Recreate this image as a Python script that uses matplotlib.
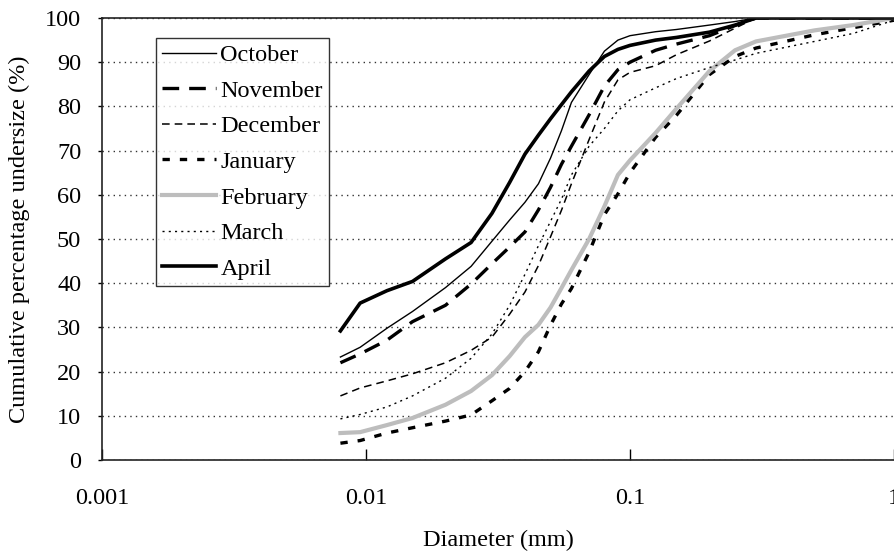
import numpy as np
import matplotlib
matplotlib.use("Agg")
import matplotlib.pyplot as plt

plt.rcParams['font.family'] = ['Liberation Serif', 'DejaVu Serif']

# particle diameters (mm) at which the curves were read
diameter = [0.008, 0.0095, 0.012, 0.015, 0.02, 0.025, 0.03, 0.035, 0.04, 0.045,
            0.05, 0.055, 0.06, 0.07, 0.08, 0.09, 0.1, 0.125, 0.15, 0.2,
            0.25, 0.3, 0.5, 0.7, 1.0]

october = [23.3, 25.5, 29.8, 33.6, 39.0, 43.8, 49.5, 54.3, 58.3, 62.5,
           68.3, 74.5, 80.9, 87.2, 92.5, 95.0, 96.0, 96.9, 97.4, 98.4,
           99.2, 100, 100, 100, 100]
november = [22.0, 24.0, 27.1, 31.3, 35.0, 39.8, 44.4, 48.2, 51.6, 56.6,
            61.7, 66.9, 71.0, 78.1, 84.6, 88.3, 90.0, 92.7, 94.1, 96.0,
            98.3, 100, 100, 100, 100]
december = [14.5, 16.3, 17.9, 19.5, 22.0, 24.8, 27.8, 33.0, 38.0, 44.0,
            50.5, 56.5, 62.5, 72.5, 81.0, 86.0, 87.7, 89.2, 91.7, 94.8,
            97.7, 100, 100, 100, 100]
january = [3.8, 4.4, 6.1, 7.3, 8.8, 10.2, 13.4, 16.2, 20.0, 24.5,
           30.5, 35.3, 38.8, 47.0, 55.5, 60.2, 65.0, 73.0, 78.0, 87.2,
           91.3, 93.2, 96.2, 97.8, 99.5]
february = [6.1, 6.3, 7.9, 9.5, 12.5, 15.6, 19.2, 23.5, 27.8, 30.6,
            34.5, 38.9, 43.0, 50.0, 57.4, 64.5, 67.8, 74.0, 79.5, 88.0,
            92.7, 94.7, 97.2, 98.4, 100]
march = [9.3, 10.3, 12.0, 14.5, 18.5, 23.0, 28.5, 35.0, 42.0, 48.5,
         54.0, 59.0, 64.5, 71.0, 75.0, 79.0, 81.5, 84.2, 86.3, 88.8,
         90.5, 92.0, 94.7, 96.5, 99.5]
april = [29.2, 35.5, 38.3, 40.4, 45.5, 49.2, 55.8, 62.8, 69.2, 73.5,
         77.2, 80.4, 83.3, 88.0, 91.3, 92.9, 93.8, 95.0, 95.6, 96.8,
         98.4, 100, 100, 100, 100]

fs = 17.5

fig = plt.figure(figsize=(8.94, 5.52), dpi=100)
ax = fig.add_axes([102/894, 92/552, 1 - 102/894, 442/552])

ax.plot(diameter, october, color='black', lw=1.0, label='October')
ax.plot(diameter, november, color='black', lw=2.4, ls=(0, (5, 3)), label='November')
ax.plot(diameter, december, color='black', lw=1.1, ls=(0, (5, 3.3)), label='December')
ax.plot(diameter, january, color='black', lw=2.4, ls=(0, (2.2, 3)), label='January')
ax.plot(diameter, february, color='#bdbdbd', lw=3.0, label='February')
ax.plot(diameter, march, color='black', lw=1.0, ls=(0, (1.5, 3)), label='March')
ax.plot(diameter, april, color='black', lw=2.6, label='April')

ax.set_xscale('log')
ax.set_xlim(0.001, 1)
ax.set_ylim(0, 100)
ax.set_xticks([0.001, 0.01, 0.1, 1])
ax.set_xticklabels(['0.001', '0.01', '0.1', '1'])
ax.xaxis.set_minor_locator(matplotlib.ticker.NullLocator())
ax.set_yticks(range(0, 101, 10))

ax.tick_params(axis='x', direction='in', length=8, width=1, pad=20, labelsize=fs)
ax.tick_params(axis='y', direction='out', length=3, width=1, pad=12, labelsize=fs)

ax.yaxis.grid(True, linestyle=(0, (1, 3)), color='#333333', lw=1)
ax.spines['right'].set_visible(False)
for s in ['left', 'bottom', 'top']:
    ax.spines[s].set_color('#222222')
    ax.spines[s].set_linewidth(1.2)

ax.set_xlabel('Diameter (mm)', fontsize=fs, labelpad=15)
ax.set_ylabel('Cumulative percentage undersize (%)', fontsize=fs, labelpad=11)

leg = ax.legend(loc='upper left', bbox_to_anchor=(156/894, 1 - 38/552),
                bbox_transform=fig.transFigure, fontsize=fs, frameon=True,
                fancybox=False, edgecolor='black', borderpad=0.25,
                labelspacing=0.56, handlelength=2.2, handletextpad=0.2,
                borderaxespad=0)
leg.get_frame().set_linewidth(1.0)

fig.savefig('out.png', dpi=100)
